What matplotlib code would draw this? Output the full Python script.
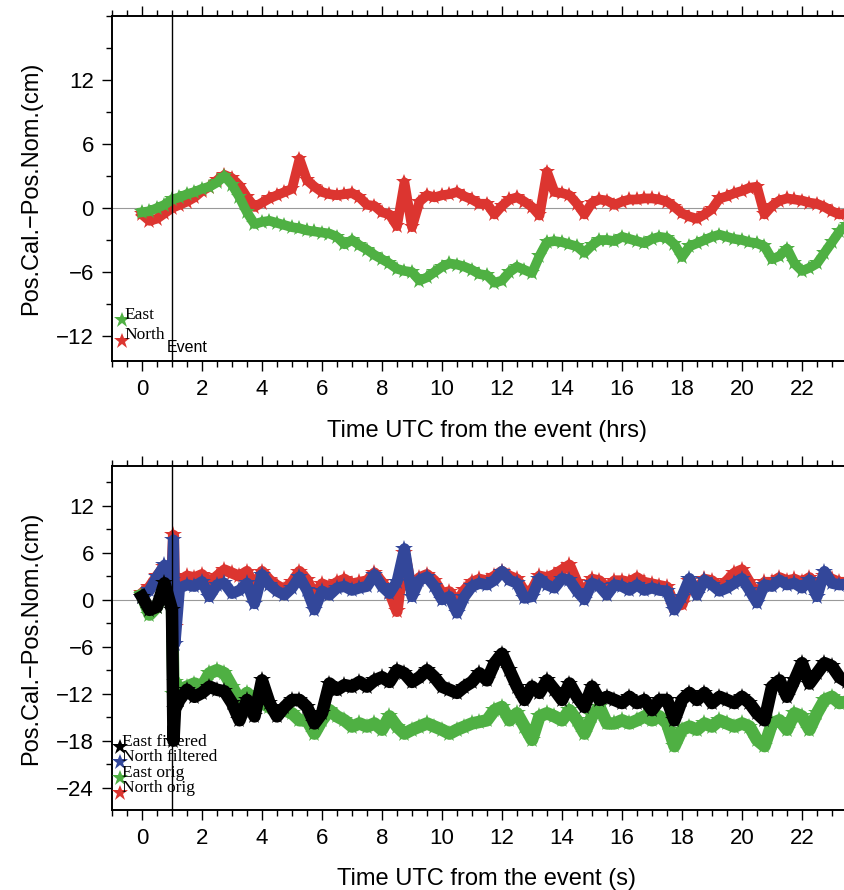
import numpy as np
import matplotlib
matplotlib.use("Agg")
import matplotlib.pyplot as plt
from matplotlib.ticker import MultipleLocator

# ---------------- data ----------------
t_top = np.arange(0, 23.51, 0.25)

east_top = [-0.4, -0.3, 0.0, 0.3, 0.8, 1.0, 1.3, 1.5, 1.8, 2.0, 2.4, 3.0,
            2.2, 1.0, -0.4, -1.5, -1.3, -1.2, -1.4, -1.6, -1.8, -1.9, -2.1, -2.2,
            -2.3, -2.4, -2.7, -3.4, -3.0, -3.5, -3.9, -4.4, -4.8, -5.2, -5.7, -5.9,
            -6.0, -6.8, -6.5, -6.0, -5.5, -5.2, -5.3, -5.5, -5.8, -6.2, -6.3, -7.0,
            -6.8, -6.0, -5.5, -5.8, -6.1, -4.5, -3.2, -3.1, -3.2, -3.4, -3.6, -4.2,
            -3.5, -3.0, -3.0, -3.1, -2.7, -2.9, -3.1, -3.3, -2.9, -2.7, -2.8, -3.4,
            -4.6, -3.6, -3.3, -3.0, -2.7, -2.5, -2.7, -2.9, -3.0, -3.2, -3.3, -3.6,
            -4.8, -4.5, -3.8, -5.2, -5.9, -5.6, -5.2, -4.2, -3.2, -2.2, -1.6]

north_top = [-0.6, -1.2, -1.0, -0.5, 0.0, 0.3, 0.6, 1.0, 1.6, 2.0, 2.6, 3.1,
             2.8, 2.1, 1.0, 0.1, 0.5, 0.9, 1.2, 1.5, 1.8, 4.6, 2.6, 2.0,
             1.5, 1.3, 1.2, 1.3, 1.4, 1.0, 0.3, 0.2, -0.4, -0.6, -1.7, 2.4,
             -1.8, 0.6, 1.2, 1.0, 1.2, 1.3, 1.5, 1.1, 0.8, 0.4, 0.4, -0.6,
             0.2, 0.8, 1.0, 0.6, 0.1, -0.7, 3.4, 1.5, 1.4, 1.2, 0.4, -0.6,
             0.5, 0.8, 0.7, 0.3, 0.6, 0.8, 0.8, 0.9, 0.9, 0.8, 0.6, 0.1,
             -0.5, -0.8, -1.0, -0.6, -0.1, 0.9, 1.1, 1.4, 1.6, 1.9, 2.0, -0.6,
             0.2, 0.7, 0.9, 0.8, 0.7, 0.5, 0.4, 0.1, -0.3, -0.6, -0.5]

t_bot = [0.0, 0.25, 0.5, 0.75, 1.0, 1.05, 1.1] + list(np.arange(1.25, 23.51, 0.25))

north_orig = [0.8, 1.6, 3.0, 4.2, 2.8, 8.2, -3.5,
              2.4, 3.0, 2.8, 3.2, 2.2, 3.0, 3.8, 3.4, 3.0, 3.6, 1.5, 3.6,
              2.5, 1.8, 1.3, 2.2, 3.6, 2.5, 0.5, 2.0, 1.6, 2.2, 2.6, 2.0,
              2.2, 2.4, 3.4, 2.2, 1.0, -1.5, 6.0, 1.0, 2.8, 3.2, 2.4, 0.8,
              1.0, -0.4, 1.2, 2.2, 2.6, 2.4, 3.0, 3.6, 3.0, 2.6, 1.0, 1.2,
              3.0, 2.8, 3.2, 3.8, 4.4, 2.2, 0.8, 2.6, 2.4, 1.4, 2.4, 2.4,
              2.2, 2.8, 2.2, 2.0, 1.8, 1.6, -0.8, -0.6, 2.4, 1.2, 2.6, 2.4,
              1.6, 2.4, 3.4, 3.8, 2.2, 0.4, 2.2, 2.2, 2.8, 2.4, 2.6, 2.2,
              2.8, 1.6, 3.0, 2.6, 2.2, 2.2]

east_orig = [0.6, -1.9, -0.9, 1.5, -0.8, -12.0, -10.5,
             -11.5, -11.1, -10.7, -11.1, -9.4, -9.0, -9.4, -11.1, -12.8, -11.9, -12.8, -13.2,
             -13.7, -14.5, -14.1, -14.5, -15.4, -15.4, -17.1, -15.4, -14.1, -14.9, -15.4, -16.2,
             -15.8, -16.2, -15.8, -16.6, -14.9, -16.2, -17.1, -16.6, -16.2, -15.8, -16.2, -16.6,
             -17.1, -16.6, -16.2, -15.8, -15.6, -15.4, -14.1, -13.7, -15.4, -14.5, -16.2, -17.9,
             -14.9, -14.5, -14.9, -15.4, -14.1, -15.4, -17.1, -14.9, -13.7, -15.8, -15.8, -15.4,
             -15.8, -15.4, -14.9, -15.4, -14.9, -15.8, -18.7, -16.6, -16.2, -16.6, -15.8, -16.2,
             -15.4, -15.8, -16.2, -15.8, -16.2, -17.9, -18.7, -15.8, -15.4, -16.6, -14.5, -14.9,
             -16.6, -14.5, -12.8, -12.4, -13.2, -13.0]

north_filt = [0.4, 1.2, 2.9, 4.4, 2.5, 7.6, -5.6,
              1.5, 1.9, 1.7, 2.3, 0.4, 1.9, 2.1, 0.8, 1.2, 2.1, -0.5, 3.2,
              1.9, 1.1, 0.6, 1.5, 2.9, 1.2, -1.3, 1.1, 0.6, 1.5, 1.7, 1.2,
              1.5, 1.7, 3.2, 1.7, 0.8, 2.3, 6.5, 0.4, 2.5, 2.9, 1.7, 0.0,
              0.4, -1.7, 0.4, 1.7, 2.1, 1.9, 2.5, 3.6, 2.5, 2.1, 0.2, 0.4,
              2.7, 1.9, 1.5, 2.7, 2.5, 1.1, 0.0, 2.1, 1.7, 0.6, 1.9, 1.7,
              1.2, 1.9, 1.2, 1.5, 1.2, 1.1, -1.3, 0.4, 2.7, 0.6, 2.5, 1.9,
              1.1, 1.5, 2.1, 2.7, 1.2, -0.4, 1.9, 1.7, 2.5, 1.9, 2.1, 1.5,
              2.5, 0.4, 3.6, 2.1, 1.9, 2.0]

east_filt = [0.4, -1.3, -0.9, 2.1, -1.3, -18.0, -14.0,
             -12.8, -11.5, -12.4, -11.9, -11.1, -11.5, -11.7, -13.2, -15.4, -12.8, -14.9, -10.3,
             -13.2, -14.9, -13.7, -12.8, -12.8, -13.7, -15.8, -14.5, -10.7, -11.5, -10.9, -11.1,
             -10.5, -11.1, -10.3, -9.9, -10.5, -9.0, -9.4, -10.5, -9.9, -9.0, -9.9, -11.1,
             -11.5, -11.9, -11.1, -10.5, -9.4, -10.3, -8.1, -6.9, -9.0, -11.1, -12.8, -11.1,
             -11.9, -10.3, -11.5, -12.8, -10.7, -12.4, -13.7, -11.1, -12.8, -12.4, -12.8, -13.2,
             -12.4, -13.2, -12.8, -14.1, -12.8, -12.8, -15.4, -12.8, -11.9, -12.8, -11.9, -13.2,
             -12.4, -12.8, -13.2, -12.4, -13.2, -14.5, -15.4, -11.1, -10.3, -12.4, -10.3, -8.1,
             -10.7, -9.4, -8.1, -8.5, -9.9, -10.5]

x_ticks = list(range(0, 24, 2))
y_ticks_top = [-12, -6, 0, 6, 12]
y_ticks_bot = [-24, -18, -12, -6, 0, 6, 12]

# ---------------- style ----------------
C_GREEN = "#4fb043"
C_RED = "#dc3530"
C_BLUE = "#33479a"
C_BLACK = "#000000"
SANS = "Liberation Sans"
SERIF = "Liberation Serif"

W, H = 845, 890
fig = plt.figure(figsize=(W / 100, H / 100), dpi=100)

def make_axes(top_px, bot_px):
    left = 112 / W
    width = 750 / W
    return fig.add_axes([left, 1 - bot_px / H, width, (bot_px - top_px) / H])

def style_axes(ax, yticks, ylim, xlabel):
    ax.set_xlim(-1, 24)
    ax.set_ylim(*ylim)
    ax.set_xticks(x_ticks)
    ax.xaxis.set_minor_locator(MultipleLocator(0.5))
    ax.set_yticks(yticks)
    ax.yaxis.set_minor_locator(MultipleLocator(3))
    ax.tick_params(which="both", direction="out", top=True, right=False,
                   width=1.0, labelsize=16)
    ax.tick_params(which="major", length=7, pad=6)
    ax.tick_params(which="minor", length=4)
    for s in ax.spines.values():
        s.set_linewidth(1.4)
    ax.set_yticklabels([str(v).replace("-", "\u2212") for v in yticks])
    for lab in ax.get_xticklabels() + ax.get_yticklabels():
        lab.set_fontfamily(SANS)
    ax.set_xlabel(xlabel, fontsize=17, family=SANS, labelpad=14)
    ax.set_ylabel("Pos.Cal.\u2212Pos.Nom.(cm)", fontsize=17, family=SANS, labelpad=10)
    ax.axhline(0, color="#999999", lw=0.8, zorder=1)
    ax.axvline(1, color="black", lw=1.0, zorder=5)

# ---------------- top panel ----------------
ax1 = make_axes(16, 361)
style_axes(ax1, y_ticks_top, (-14.34, 18.0), "Time UTC from the event (hrs)")
for y, c in [(north_top, C_RED), (east_top, C_GREEN)]:
    ax1.plot(t_top, y, color=c, lw=7, marker="*", ms=12, mew=0, zorder=3)
ax1.plot([-0.65], [-10.5], marker="*", color=C_GREEN, ms=12, mew=0, clip_on=False)
ax1.plot([-0.65], [-12.5], marker="*", color=C_RED, ms=12, mew=0, clip_on=False)
ax1.text(-0.6, -10.0, "East", family=SERIF, fontsize=12.5, va="center", ha="left")
ax1.text(-0.6, -11.9, "North", family=SERIF, fontsize=12.5, va="center", ha="left")
ax1.text(0.83, -13.1, "Event", family=SANS, fontsize=11.5, va="center", ha="left")

# ---------------- bottom panel ----------------
ax2 = make_axes(466, 810)
style_axes(ax2, y_ticks_bot, (-26.85, 17.07), "Time UTC from the event (s)")
for y, c, lw in [(north_orig, C_RED, 8), (east_orig, C_GREEN, 9),
                 (north_filt, C_BLUE, 8), (east_filt, C_BLACK, 9)]:
    ax2.plot(t_bot, y, color=c, lw=lw, marker="*", ms=13, mew=0, zorder=3)

leg_items = [("East filtered", C_BLACK, -18.8), ("North filtered", C_BLUE, -20.7),
             ("East orig", C_GREEN, -22.8), ("North orig", C_RED, -24.7)]
for label, c, yv in leg_items:
    ax2.plot([-0.72], [yv], marker="*", color=c, ms=12, mew=0, clip_on=False, zorder=6)
    ax2.text(-0.66, yv + 0.65, label, family=SERIF, fontsize=12.5, va="center",
             ha="left", zorder=6)

fig.savefig("out.png", dpi=100)
